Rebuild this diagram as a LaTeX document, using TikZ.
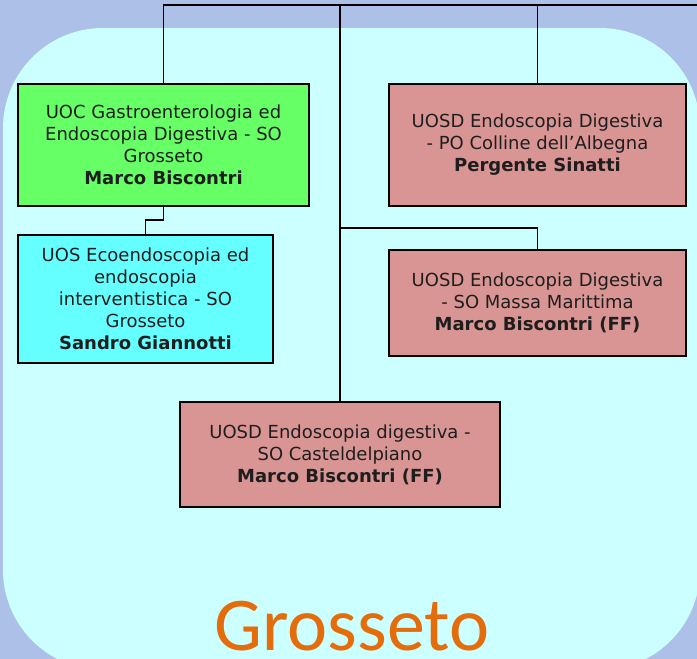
\documentclass[tikz,border=0pt]{standalone}
\usepackage{fontspec}
\setmainfont{DejaVu Sans}
\newfontfamily\titlefont{Carlito}
\definecolor{outerbg}{RGB}{172,192,232}
\definecolor{innerbg}{RGB}{204,255,255}
\definecolor{boxgreen}{RGB}{102,255,102}
\definecolor{boxcyan}{RGB}{102,255,255}
\definecolor{boxrose}{RGB}{217,149,148}
\definecolor{txt}{RGB}{30,30,30}
\definecolor{titleorange}{RGB}{228,108,10}
\begin{document}
\begin{tikzpicture}[x=1pt,y=-1pt,
  unitbox/.style={draw=black,line width=1.6pt,rectangle,inner sep=0pt,align=center,
    text=txt,font=\fontsize{18}{22}\selectfont},
  link/.style={draw=black,line width=1.3pt}]
\useasboundingbox (0,0) rectangle (697,659);
\fill[outerbg] (0,0) rectangle (697,659);
\fill[innerbg] (3,128) arc[start angle=180,end angle=270,radius=100] -- (600,28)
  arc[start angle=270,end angle=360,radius=100] -- (700,570)
  arc[start angle=0,end angle=90,radius=100] -- (103,670)
  arc[start angle=90,end angle=180,radius=100] -- cycle;
% boxes
\node[unitbox,fill=boxgreen,minimum width=291pt,minimum height=122pt] (uoc) at (163.5,145)
  {UOC Gastroenterologia ed\\Endoscopia Digestiva - SO\\Grosseto\\\textbf{Marco Biscontri}};
\node[unitbox,fill=boxcyan,minimum width=255pt,minimum height=128pt] (uos) at (145.5,299)
  {UOS Ecoendoscopia ed\\endoscopia\\interventistica - SO\\Grosseto\\\textbf{Sandro Giannotti}};
\node[unitbox,fill=boxrose,minimum width=297pt,minimum height=122pt] (perg) at (537.5,145)
  {UOSD Endoscopia Digestiva\\- PO Colline dell'Albegna\\\textbf{Pergente Sinatti}};
\node[unitbox,fill=boxrose,minimum width=297pt,minimum height=106pt] (massa) at (537.5,303)
  {UOSD Endoscopia Digestiva\\- SO Massa Marittima\\\textbf{Marco Biscontri (FF)}};
\node[unitbox,fill=boxrose,minimum width=320pt,minimum height=105pt] (castel) at (340,454.5)
  {UOSD Endoscopia digestiva -\\SO Casteldelpiano\\\textbf{Marco Biscontri (FF)}};
% connectors
\coordinate (root) at (340,5);
\coordinate (rightend) at (697,5);
\coordinate (split) at (340,228);
\coordinate (uocjog) at (163.5,220);
\draw[link] (uoc.north) |- (root) -- (rightend);
\draw[link] (perg.north) -- (perg.north |- root);
\draw[link,line width=2.6pt] (root) -- (split);
\draw[link] (split) -| (massa.north);
\draw[link] (split) -- (castel.north);
\draw[link] (uoc.south) -- (uocjog) -| (uos.north);
% title
\node[text=titleorange,font=\titlefont\fontsize{76}{76}\selectfont,anchor=base,inner sep=0pt] (title) at (352,650) {Grosseto};
\end{tikzpicture}
\end{document}
